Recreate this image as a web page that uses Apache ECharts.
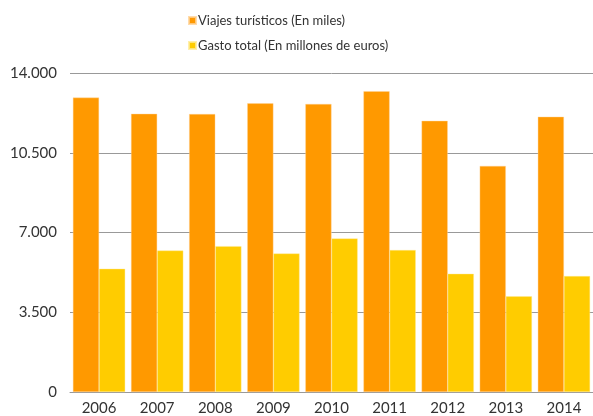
<!DOCTYPE html>
<html>
<head>
<meta charset="utf-8">
<script src="https://cdn.jsdelivr.net/npm/echarts@6/dist/echarts.min.js"></script>
<style>
  html, body { margin: 0; padding: 0; background: #fff; }
  #chart { width: 593px; height: 416px; }
</style>
</head>
<body>
<div id="chart"></div>
<script>
const years = ['2006', '2007', '2008', '2009', '2010', '2011', '2012', '2013', '2014']
const viajes = [12920, 12210, 12200, 12670, 12640, 13200, 11900, 9920, 12080]
const gasto = [5410, 6210, 6400, 6080, 6740, 6230, 5190, 4200, 5090]
const seriesNames = ['Viajes turísticos (En miles)', 'Gasto total (En millones de euros)']

const fmt = v => v === 0 ? '0' : v.toLocaleString('de-DE')

const chart = echarts.init(document.getElementById('chart'))

chart.setOption({
  animation: false,
  textStyle: { fontFamily: 'Lato, "Open Sans", sans-serif' },
  legend: {
    data: seriesNames,
    orient: 'vertical',
    left: 183,
    top: 9,
    itemWidth: 7,
    itemHeight: 7,
    itemGap: 12,
    icon: 'rect',
    textStyle: { color: '#333', fontSize: 13, padding: [0, 0, 0, -3] }
  },
  grid: {
    left: 70,
    right: -2,
    top: 73,
    bottom: 23,
    containLabel: false
  },
  xAxis: {
    type: 'category',
    data: years,
    axisTick: { show: false },
    axisLine: { lineStyle: { color: '#999' } },
    axisLabel: { color: '#333', fontSize: 15, margin: 9 }
  },
  yAxis: {
    type: 'value',
    min: 0,
    max: 14000,
    interval: 3500,
    axisLabel: { color: '#333', fontSize: 15, margin: 13, formatter: fmt },
    splitLine: { lineStyle: { color: '#999' } }
  },
  series: [
    {
      name: seriesNames[0],
      type: 'bar',
      data: viajes,
      barGap: '0%',
      barCategoryGap: '10%',
      itemStyle: { color: '#ff9900', borderColor: 'rgba(255,210,150,0.8)', borderWidth: 0.5 }
    },
    {
      name: seriesNames[1],
      type: 'bar',
      data: gasto,
      itemStyle: { color: '#ffcc00', borderColor: 'rgba(255,235,150,0.8)', borderWidth: 0.5 }
    }
  ]
})
</script>
</body>
</html>
